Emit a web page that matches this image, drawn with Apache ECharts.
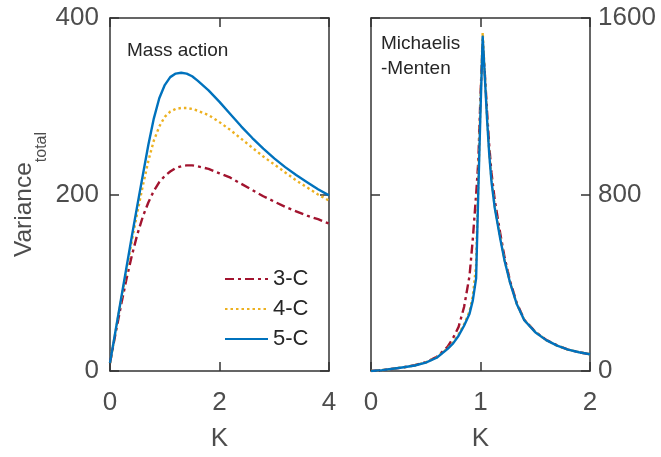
<!DOCTYPE html>
<html>
<head>
<meta charset="utf-8">
<script src="https://cdn.jsdelivr.net/npm/echarts@6/dist/echarts.min.js"></script>
<style>html,body{margin:0;padding:0;background:#fff;}#c{width:661px;height:457px;}</style>
</head>
<body>
<div id="c"></div>
<script>
// ---- Data ----
const seriesNames = ['3-C', '4-C', '5-C'];
// Mass action panel
const kMA = [0, 0.1, 0.2, 0.3, 0.4, 0.5, 0.6, 0.7, 0.8, 0.9, 1.0, 1.1, 1.2, 1.3, 1.4, 1.5, 1.6, 1.8, 2.0, 2.2, 2.4, 2.6, 2.8, 3.0, 3.2, 3.4, 3.6, 3.8, 4.0];
const ma3C = [9, 42, 74, 104, 131, 155, 175, 191, 204, 214, 221, 226, 230, 232, 233, 233, 232, 229, 224, 219, 212, 205, 198, 192, 186, 181, 176, 172, 167];
const ma4C = [9, 44, 79, 114, 148, 180, 210, 238, 261, 277, 288, 294, 297, 298, 298, 297, 295, 290, 282, 273, 263, 253, 243, 234, 225, 216, 208, 200, 193];
const ma5C = [9, 45, 81, 117, 153, 188, 222, 256, 286, 309, 324, 333, 337, 338, 337, 334, 329, 318, 305, 291, 277, 264, 252, 241, 231, 222, 214, 206, 199];
// Michaelis-Menten panel
const kMM = [0, 0.1, 0.2, 0.3, 0.4, 0.5, 0.6, 0.7, 0.75, 0.8, 0.85, 0.9, 0.93, 0.96, 0.98, 1.0, 1.02, 1.04, 1.06, 1.08, 1.1, 1.13, 1.18, 1.22, 1.27, 1.33, 1.4, 1.5, 1.6, 1.7, 1.8, 1.9, 2.0];
const mm3C = [0, 4, 10, 17, 26, 40, 64, 110, 150, 200, 290, 432, 600, 800, 950, 1250, 1490, 1345, 1175, 1020, 900, 775, 625, 515, 408, 310, 232, 178, 141, 116, 97, 85, 76];
const mm4C = [0, 4, 10, 17, 26, 39, 62, 103, 129, 166, 212, 270, 340, 480, 850, 1220, 1534, 1340, 1150, 990, 868, 746, 604, 503, 402, 306, 231, 177, 140, 115, 97, 85, 76];
const mm5C = [0, 4, 10, 17, 25, 38, 60, 100, 125, 160, 205, 260, 320, 420, 815, 1180, 1515, 1330, 1140, 980, 860, 740, 600, 500, 400, 305, 230, 176, 140, 115, 97, 85, 76];
// Ticks
const xTicksMA = {min: 0, max: 4, interval: 2};
const xTicksMM = {min: 0, max: 2, interval: 1};
const yTicksMA = {min: 0, max: 400, interval: 200};
const yTicksMM = {min: 0, max: 1600, interval: 800};

// ---- Styles ----
const FONT = "'Liberation Sans', Arial, Helvetica, sans-serif";
const colors = ['#A2142F', '#EDB120', '#0072BD'];
const dashTypes = [[9, 4, 3, 4], [2.5, 3], 'solid'];
const axisColor = '#333333';
const labelColor = '#4d4d4d';

const pair = (xs, ys) => xs.map((x, i) => [x, ys[i]]);
const plain = (v) => String(v);

function xAxes(gridIndex, t) {
  return [
    {type: 'value', gridIndex, position: 'bottom', min: t.min, max: t.max, interval: t.interval,
     name: 'K', nameLocation: 'middle', nameGap: 55,
     nameTextStyle: {fontFamily: FONT, fontSize: 26, color: labelColor},
     axisLine: {show: true, onZero: false, lineStyle: {color: axisColor, width: 1.5}},
     axisTick: {show: true, inside: true, length: 9, lineStyle: {color: axisColor, width: 1.5}},
     axisLabel: {show: true, margin: 19, formatter: plain, fontFamily: FONT, fontSize: 26, color: labelColor},
     splitLine: {show: false}},
    {type: 'value', gridIndex, position: 'top', min: t.min, max: t.max, interval: t.interval,
     axisLine: {show: true, onZero: false, lineStyle: {color: axisColor, width: 1.5}},
     axisTick: {show: true, inside: true, length: 9, lineStyle: {color: axisColor, width: 1.5}},
     axisLabel: {show: false}, splitLine: {show: false}}
  ];
}
function yAxes(gridIndex, t, labelSide, extra) {
  const mk = (pos) => Object.assign({
    type: 'value', gridIndex, position: pos, min: t.min, max: t.max, interval: t.interval,
    axisLine: {show: true, onZero: false, lineStyle: {color: axisColor, width: 1.5}},
    axisTick: {show: true, inside: true, length: 9, lineStyle: {color: axisColor, width: 1.5}},
    axisLabel: {show: pos === labelSide, margin: pos === 'left' ? 11 : 8, formatter: plain, fontFamily: FONT, fontSize: 26, color: labelColor},
    splitLine: {show: false}
  }, pos === labelSide ? (extra || {}) : {});
  return [mk('left'), mk('right')];
}

const yName = {
  name: '{a|Variance}{b|total}', nameLocation: 'middle', nameGap: 71, nameRotate: 90,
  nameTextStyle: {fontFamily: FONT, color: labelColor,
    rich: {a: {fontFamily: FONT, fontSize: 24.5, lineHeight: 27, verticalAlign: 'top', color: labelColor},
           b: {fontFamily: FONT, fontSize: 16, lineHeight: 16, padding: [22, 0, 0, 0], verticalAlign: 'top', color: labelColor}}}
};

const xA = xAxes(0, xTicksMA).concat(xAxes(1, xTicksMM));
const yA = yAxes(0, yTicksMA, 'left', yName).concat(yAxes(1, yTicksMM, 'right'));

const maData = [ma3C, ma4C, ma5C];
const mmData = [mm3C, mm4C, mm5C];
const series = [];
seriesNames.forEach((n, i) => {
  series.push({name: n, type: 'line', xAxisIndex: 0, yAxisIndex: 0, data: pair(kMA, maData[i]),
    showSymbol: false, symbol: 'none', smooth: false,
    lineStyle: {color: colors[i], width: 2.4, type: dashTypes[i], join: 'round'}, itemStyle: {color: colors[i]}, z: 2 + i});
});
seriesNames.forEach((n, i) => {
  series.push({name: n, type: 'line', xAxisIndex: 2, yAxisIndex: 2, data: pair(kMM, mmData[i]),
    showSymbol: false, symbol: 'none', smooth: false,
    lineStyle: {color: colors[i], width: 2.4, type: dashTypes[i], join: 'round'}, itemStyle: {color: colors[i]}, z: 2 + i});
});

const chart = echarts.init(document.getElementById('c'), null, {renderer: 'canvas'});
chart.setOption({
  animation: false,
  backgroundColor: '#ffffff',
  grid: [
    {left: 110, top: 18, width: 219, height: 359},
    {left: 371, top: 18, width: 219, height: 359}
  ],
  title: [
    {text: 'Mass action', left: 122, top: 36, textStyle: {fontFamily: FONT, fontSize: 19, fontWeight: 'normal', color: '#262626'}},
    {text: 'Michaelis\n-Menten', left: 376, top: 26, textStyle: {fontFamily: FONT, fontSize: 19, lineHeight: 25, fontWeight: 'normal', color: '#262626'}}
  ],
  legend: {
    data: seriesNames, orient: 'vertical', left: 224, top: 268, padding: 0,
    itemWidth: 43, itemHeight: 14, itemGap: 8,
    itemStyle: {opacity: 0},
    textStyle: {fontFamily: FONT, fontSize: 22, color: '#262626'}
  },
  xAxis: xA,
  yAxis: yA,
  series: series
});
</script>
</body>
</html>
